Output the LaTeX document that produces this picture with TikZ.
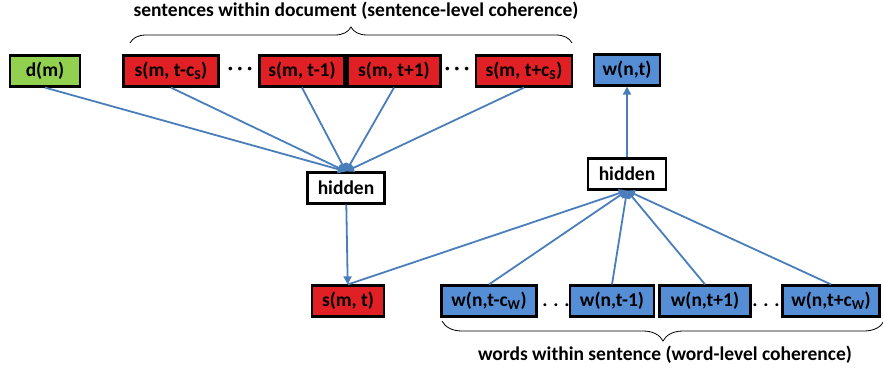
\documentclass[tikz,border=0pt]{standalone}
\usepackage{fontspec}
\setmainfont{Carlito}
\usetikzlibrary{arrows.meta,positioning,decorations.pathreplacing}
\definecolor{sred}{RGB}{224,32,36}
\definecolor{dgreen}{RGB}{146,208,80}
\definecolor{wblue}{RGB}{85,142,213}
\definecolor{arrblue}{RGB}{74,126,187}

\begin{document}
\begin{tikzpicture}[
    x=1pt, y=-1pt,
    box/.style={draw, line width=2.2pt, fill=#1, minimum height=31pt,
                inner xsep=6pt, font=\fontsize{19.5}{22}\selectfont\bfseries},
    box/.default=white,
    dotsnode/.style={inner sep=0pt, font=\fontsize{19.5}{22}\selectfont\bfseries},
    lbl/.style={anchor=base, inner sep=0pt, font=\fontsize{19.5}{22}\selectfont\bfseries},
    arr/.style={-{Triangle[length=8pt,width=8pt]}, line width=1.8pt, arrblue},
    brc/.style={decorate, decoration={brace, amplitude=#1}, line width=0.8pt}
]
\useasboundingbox (0,0) rectangle (883,375);

% Document-level row
\node[box=dgreen, minimum width=70pt] (dm) at (45,71) {d(m)};
\node[box=sred, minimum width=95pt] (sprev) at (171,71) {s(m, t-c\textsubscript{S})};
\node[dotsnode] (dotsa) at (240,71) {· · ·};
\node[box=sred, minimum width=85pt] (sm1) at (302,71) {s(m, t-1)};
\node[box=sred, minimum width=93pt] (sp1) at (394,71) {s(m, t+1)};
\node[dotsnode] (dotsb) at (457,71) {· · ·};
\node[box=sred, minimum width=96pt] (snext) at (524,71) {s(m, t+c\textsubscript{S})};
\node[box=wblue, minimum width=66pt] (wout) at (627,70) {w(n,t)};

% Hidden layers and current sentence
\node[box, minimum width=77pt] (hidl) at (346,188) {hidden};
\node[box, minimum width=78pt] (hidr) at (627,174) {hidden};
\node[box=sred, minimum width=72pt] (scur) at (348,301) {s(m, t)};

% Word-level row
\node[box=wblue, minimum width=95pt] (wprev) at (489,301) {w(n,t-c\textsubscript{W})};
\node[dotsnode] (dotsc) at (556,305) {. . .};
\node[box=wblue, minimum width=84pt] (wm1) at (612,301) {w(n,t-1)};
\node[box=wblue, minimum width=91pt] (wp1) at (705,301) {w(n,t+1)};
\node[dotsnode] (dotsd) at (766,305) {. . .};
\node[box=wblue, minimum width=97pt] (wnext) at (831,301) {w(n,t+c\textsubscript{W})};

% Braces and captions
\coordinate (tbl) at (130,43);
\coordinate (tbr) at (572,43);
\draw[brc=16pt] (tbl) -- (tbr);
\node[lbl] (tcap) at (356,16) {sentences within document (sentence-level coherence)};
\coordinate (bbl) at (442,321);
\coordinate (bbr) at (884,321);
\draw[brc=20pt] (bbr) -- (bbl);
\node[lbl] (bcap) at (665,360) {words within sentence (word-level coherence)};

% Connections
\foreach \src in {dm, sprev, sm1, sp1, snext}
    \draw[arr] (\src.south) -- (hidl.north);
\draw[arr] (hidl) -- (scur);
\draw[arr] (scur.north) -- (hidr.south);
\foreach \src in {wprev, wm1, wp1, wnext}
    \draw[arr] (\src.north) -- (hidr.south);
\draw[arr] (hidr) -- (wout);

\end{tikzpicture}
\end{document}
